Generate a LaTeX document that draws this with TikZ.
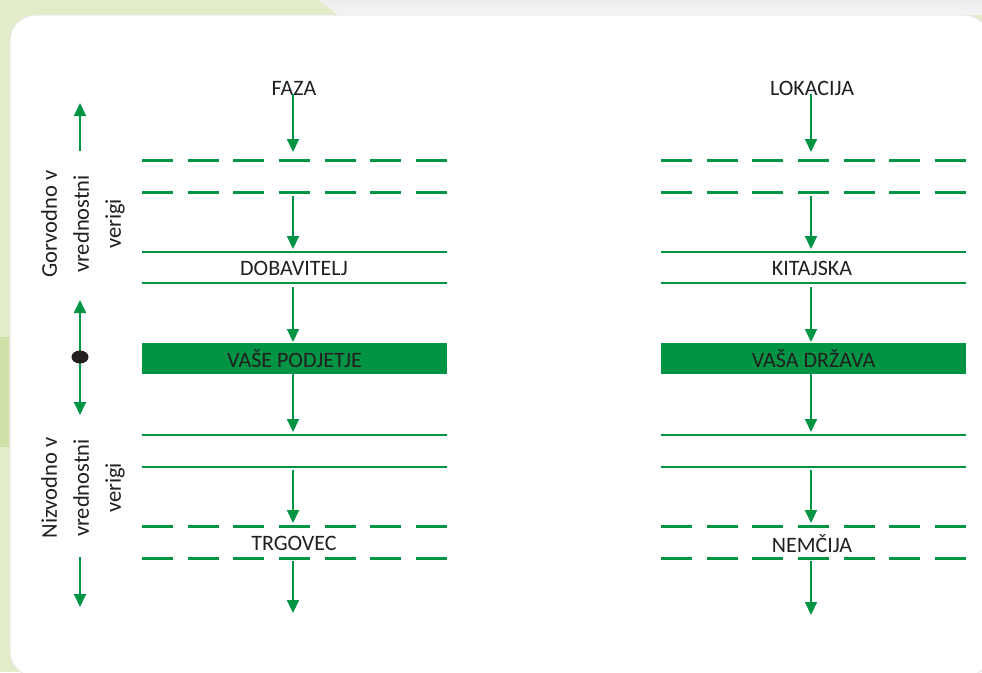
\documentclass[tikz,border=0pt]{standalone}
\usepackage{fontspec}
\setmainfont{Carlito}
\usetikzlibrary{arrows.meta}

\definecolor{chaingreen}{RGB}{0,148,68}
\definecolor{inkdark}{RGB}{35,31,32}
\definecolor{paleleaf}{RGB}{226,236,201}
\definecolor{deepleaf}{RGB}{207,224,168}
\definecolor{mistgray}{RGB}{236,236,236}

\tikzset{
  flow/.style={draw=chaingreen, line width=2pt,
    -{Triangle[length=13pt,width=12pt]}},
  twoway/.style={draw=chaingreen, line width=2pt,
    {Triangle[length=13pt,width=12pt]}-{Triangle[length=13pt,width=12pt]}},
  tierdash/.style={draw=chaingreen, line width=3pt,
    dash pattern=on 31pt off 14.667pt},
  tiersolid/.style={draw=chaingreen, line width=2.5pt},
  lbl/.style={text=inkdark, font=\fontsize{22}{26}\selectfont,
    inner sep=0pt, text depth=0pt},
  sidelbl/.style={text=inkdark, font=\fontsize{22.5}{32}\selectfont,
    align=center, rotate=90, inner sep=0pt},
  firmbox/.style={fill=chaingreen, minimum width=305pt, minimum height=31pt,
    inner sep=0pt, text=inkdark, font=\fontsize{22}{26}\selectfont},
}

\begin{document}
\begin{tikzpicture}[x=1pt,y=-1pt]
\useasboundingbox (0,0) rectangle (982,672);

% backdrop and card
\fill[paleleaf] (0,0) rectangle (982,672);
\shade[top color=mistgray, bottom color=white!96!black]
  (318,0) -- (982,0) -- (982,15) -- (338,15) -- cycle;
\fill[deepleaf] (0,337) rectangle (9,447);
\fill[white, draw=black!8, line width=1pt, rounded corners=26pt]
  (10,15) rectangle (990,677);

% ---------- left column: phases ----------
\node[lbl] (faza) at (294,88) {FAZA};
\foreach \y in {160,192,526,558}
  \draw[tierdash] (142,\y) -- (447,\y);
\foreach \y in {252,283,435,467}
  \draw[tiersolid] (142,\y) -- (447,\y);
\node[lbl] (dobav) at (294,268) {DOBAVITELJ};
\node[firmbox] (firm) at (294.5,358.5) {VAŠE PODJETJE};
\node[lbl] (trg) at (294,543) {TRGOVEC};

\coordinate (a1) at (293,152);
\coordinate (a2s) at (293,196);
\coordinate (a2e) at (293,249);
\coordinate (a3s) at (293,287);
\coordinate (a3e) at (293,342);
\coordinate (a4e) at (293,432);
\coordinate (a5s) at (293,470);
\coordinate (a5e) at (293,523);
\coordinate (a6s) at (293,561);
\coordinate (a6e) at (293,613);
\draw[flow] (faza.south -| a1) ++(0,-1) -- (a1);
\draw[flow] (a2s) -- (a2e);
\draw[flow] (a3s) -- (a3e);
\draw[flow] (firm.south -| a4e) -- (a4e);
\draw[flow] (a5s) -- (a5e);
\draw[flow] (a6s) -- (a6e);

% ---------- right column: locations ----------
\node[lbl] (lok) at (812,88) {LOKACIJA};
\foreach \y in {160,192,526,558}
  \draw[tierdash] (661,\y) -- (966,\y);
\foreach \y in {252,283,435,467}
  \draw[tiersolid] (661,\y) -- (966,\y);
\node[lbl] (kit) at (812,268) {KITAJSKA};
\node[firmbox] (home) at (813.5,358.5) {VAŠA DRŽAVA};
\node[lbl] (nem) at (812,543) {NEMČIJA};

\coordinate (b1) at (811,152);
\coordinate (b2s) at (811,196);
\coordinate (b2e) at (811,249);
\coordinate (b3s) at (811,287);
\coordinate (b3e) at (811,342);
\coordinate (b4e) at (811,432);
\coordinate (b5s) at (811,470);
\coordinate (b5e) at (811,523);
\coordinate (b6s) at (811,561);
\coordinate (b6e) at (811,615);
\draw[flow] (lok.south -| b1) ++(0,-1) -- (b1);
\draw[flow] (b2s) -- (b2e);
\draw[flow] (b3s) -- (b3e);
\draw[flow] (home.south -| b4e) -- (b4e);
\draw[flow] (b5s) -- (b5e);
\draw[flow] (b6s) -- (b6e);

% ---------- value-chain direction ----------
\node[sidelbl] (upstream) at (83,224) {Gorvodno v\\vrednostni\\verigi};
\node[sidelbl] (downstream) at (83,488) {Nizvodno v\\vrednostni\\verigi};
\coordinate (upbase) at (80,151);
\coordinate (uptip) at (80,103);
\coordinate (midtop) at (80,300);
\coordinate (midbot) at (80,415);
\coordinate (dnbase) at (80,557);
\coordinate (dntip) at (80,607);
\draw[flow] (upbase) -- (uptip);
\draw[twoway] (midtop) -- (midbot);
\coordinate (here) at (80,357);
\fill[inkdark] (here) ellipse [x radius=8.5pt, y radius=6.5pt];
\draw[flow] (dnbase) -- (dntip);
\end{tikzpicture}
\end{document}
